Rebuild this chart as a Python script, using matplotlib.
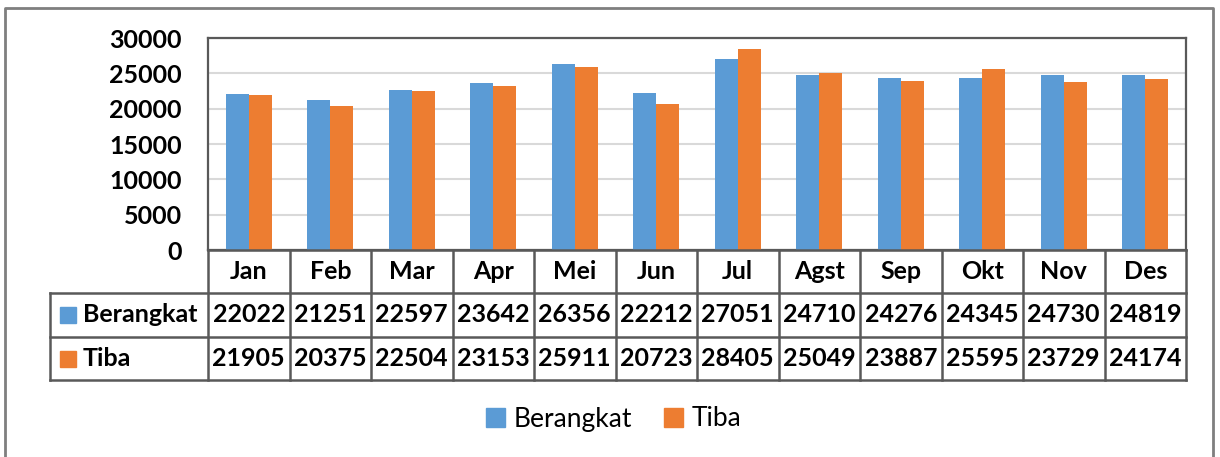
import matplotlib.pyplot as plt
from matplotlib.patches import Rectangle, Patch
from matplotlib.lines import Line2D
import matplotlib.transforms as mtransforms
import numpy as np

months = ["Jan", "Feb", "Mar", "Apr", "Mei", "Jun", "Jul", "Agst", "Sep", "Okt", "Nov", "Des"]
berangkat = [22022, 21251, 22597, 23642, 26356, 22212, 27051, 24710, 24276, 24345, 24730, 24819]
tiba = [21905, 20375, 22504, 23153, 25911, 20723, 28405, 25049, 23887, 25595, 23729, 24174]
series_names = ["Berangkat", "Tiba"]

BLUE = "#5B9BD5"
ORANGE = "#ED7D31"
EDGE = "#595959"
FONT = "Lato"
FS = 18

W, H = 1220, 457
fig = plt.figure(figsize=(W / 100, H / 100), dpi=100)


def fx(px):
    return px / W


def fy(py):
    return 1 - py / H


# plot area
left, right, top, bottom = 208, 1186, 38, 250
ax = fig.add_axes([fx(left), fy(bottom), fx(right - left), (bottom - top) / H])

x = np.arange(len(months))
bw = 0.28
ax.bar(x - bw / 2, berangkat, bw, color=BLUE, zorder=3)
ax.bar(x + bw / 2, tiba, bw, color=ORANGE, zorder=3)

ax.set_xlim(-0.5, len(months) - 0.5)
ax.set_ylim(0, 30000)
ax.set_yticks(range(0, 30001, 5000))
ax.set_xticks([])
ax.yaxis.grid(True, color="#d9d9d9", linewidth=1.5, zorder=0)
ax.tick_params(axis="y", length=0, pad=19)
for lab in ax.get_yticklabels():
    lab.set_fontfamily(FONT)
    lab.set_fontweight("bold")
    lab.set_fontsize(FS)
for s in ax.spines.values():
    s.set_color(EDGE)
    s.set_linewidth(1.6)

# data table below the plot
trans = mtransforms.blended_transform_factory(ax.transData, fig.transFigure)
rows_y = [250, 293, 337, 380]
table_left = 50
lw = 1.8

# horizontal lines
fig.add_artist(Line2D([fx(left), fx(right)], [fy(rows_y[0])] * 2, color=EDGE, lw=lw))
for yy in rows_y[1:]:
    fig.add_artist(Line2D([fx(table_left), fx(right)], [fy(yy)] * 2, color=EDGE, lw=lw))
# vertical lines
for i in range(len(months) + 1):
    fig.add_artist(Line2D([i - 0.5, i - 0.5], [fy(rows_y[0]), fy(rows_y[3])],
                          color=EDGE, lw=lw, transform=trans))
fig.add_artist(Line2D([fx(table_left)] * 2, [fy(rows_y[1]), fy(rows_y[3])], color=EDGE, lw=lw))

txt_kw = dict(fontfamily=FONT, fontweight="bold", fontsize=FS, ha="center", va="center")
for i, m in enumerate(months):
    fig.text(i, fy((rows_y[0] + rows_y[1]) / 2), m, transform=trans, **txt_kw)
    fig.text(i, fy((rows_y[1] + rows_y[2]) / 2), str(berangkat[i]), transform=trans, **txt_kw)
    fig.text(i, fy((rows_y[2] + rows_y[3]) / 2), str(tiba[i]), transform=trans, **txt_kw)

for r, (name, col) in enumerate(zip(series_names, [BLUE, ORANGE])):
    cy = (rows_y[r + 1] + rows_y[r + 2]) / 2
    fig.add_artist(Rectangle((fx(60), fy(cy + 8)), fx(16), 16 / H, color=col))
    fig.text(fx(83), fy(cy), name, fontfamily=FONT, fontweight="bold", fontsize=FS,
             ha="left", va="center")

# legend
handles = [Patch(color=BLUE), Patch(color=ORANGE)]
fig.legend(handles, series_names, loc="center", bbox_to_anchor=(fx(614), fy(419)),
           ncol=2, frameon=False, handlelength=0.7, handleheight=0.7,
           handletextpad=0.35, columnspacing=1.2, prop={"family": FONT, "size": 19})

# outer chart border
bc = "#7f7f7f"
fig.add_artist(Line2D([fx(5), fx(5), fx(1213), fx(1213)], [0, fy(8), fy(8), 0], color=bc, lw=2))

fig.savefig("out.png", dpi=100)
